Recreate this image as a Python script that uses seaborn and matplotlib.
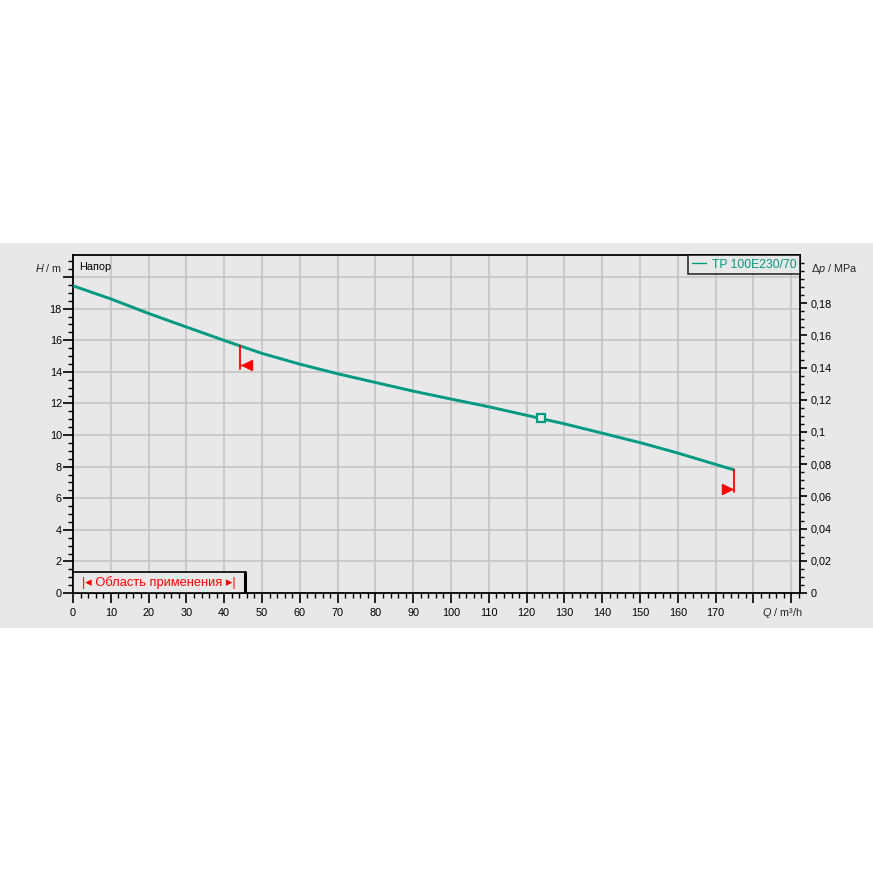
import numpy as np
import pandas as pd
import matplotlib
matplotlib.use("Agg")
import matplotlib.pyplot as plt
from matplotlib.patches import Rectangle
from matplotlib.ticker import MultipleLocator
import seaborn as sns

# data
flow = [0, 10, 20, 30, 40, 50, 60, 70, 80, 90, 100, 110, 120, 130, 140, 150, 160, 170, 174.8]
head = [19.45, 18.62, 17.7, 16.84, 15.99, 15.17, 14.49, 13.88, 13.33, 12.78, 12.28, 11.79, 11.25, 10.71, 10.12, 9.52, 8.86, 8.14, 7.8]
duty_q = [123.9]
duty_h = [11.07]
range_min_q = 44.1
range_max_q = 174.8
series_name = "TP 100E230/70"
x_ticks = list(range(0, 180, 10))
y_ticks = list(range(0, 20, 2))
p_ticks = [0, 0.02, 0.04, 0.06, 0.08, 0.1, 0.12, 0.14, 0.16, 0.18]

TEAL = "#009982"
RED = "#ff0000"
BG = "#e8e8e8"
GRID = "#c2c2c2"
FS = 7.8

sns.set_theme(style="white")
plt.rcParams["font.family"] = ["Liberation Sans", "DejaVu Sans"]
plt.rcParams["mathtext.fontset"] = "custom"
plt.rcParams["mathtext.rm"] = "Liberation Sans"
plt.rcParams["mathtext.it"] = "Liberation Sans:italic"

fig = plt.figure(figsize=(8.73, 8.73), dpi=100)
fig.patch.set_facecolor("white")
band = Rectangle((0, (873 - 628) / 873), 1, (628 - 243) / 873,
                 transform=fig.transFigure, facecolor=BG, edgecolor="none", zorder=-10)
fig.add_artist(band)

ax = fig.add_axes([73 / 873, (873 - 593) / 873, (800 - 73) / 873, (593 - 255) / 873])
ax.set_zorder(1)
ax.set_facecolor(BG)

df = pd.DataFrame({"Q": flow, "H": head})
sns.lineplot(data=df, x="Q", y="H", ax=ax, color=TEAL, linewidth=2.1, zorder=3)
ax.plot(duty_q, duty_h, marker="s", markersize=6.2, markerfacecolor=BG,
        markeredgecolor=TEAL, markeredgewidth=1.6, linestyle="none", zorder=4)

xmax = 192.3
ymax = 21.4
ax.set_xlim(0, xmax)
ax.set_ylim(0, ymax)

ax.set_yticks(y_ticks + [20])
ax.set_yticklabels([str(v) for v in y_ticks] + [""])
ax.xaxis.set_minor_locator(MultipleLocator(2))
ax.yaxis.set_minor_locator(MultipleLocator(0.5))
ax.set_xticks(x_ticks + [180, 190])
ax.set_xticklabels([str(v) for v in x_ticks] + ["", ""])
ax.grid(True, which="major", color=GRID, linewidth=1.1)
ax.set_axisbelow(True)

ax.tick_params(axis="both", which="major", direction="out", length=7, width=1.2,
               color="black", labelsize=FS, labelcolor="black")
ax.tick_params(axis="y", which="major", pad=1)
ax.tick_params(axis="x", which="major", pad=4)
ax.tick_params(axis="both", which="minor", direction="out", length=3.5, width=1.0, color="black")
ax.tick_params(axis="x", which="both", bottom=True)
ax.tick_params(axis="y", which="both", left=True)
for s in ax.spines.values():
    s.set_color("black")
    s.set_linewidth(1.3)
ax.set_xlabel("")
ax.set_ylabel("")

# right axis in MPa
ax2 = ax.twinx()
ax2.set_ylim(0, ymax * 0.00981)
ax2.set_yticks(p_ticks)
ax2.set_yticklabels(["0" if v == 0 else f"{v:g}".replace(".", ",") for v in p_ticks])
ax2.yaxis.set_minor_locator(MultipleLocator(0.005))
ax2.tick_params(axis="y", which="major", direction="out", length=5, width=1.2,
                color="black", labelsize=FS, labelcolor="black", pad=3)
ax2.tick_params(axis="y", which="minor", direction="out", length=3.2, width=1.0, color="black")
for s in ax2.spines.values():
    s.set_visible(False)
ax2.grid(False)

# axis labels
fig.text(35 / 873, 1 - 268 / 873, "$\\mathit{H}$ / m", ha="left", va="center", fontsize=FS)
fig.text(811 / 873, 1 - 269 / 873, "$\\mathit{\\Delta p}$ / MPa", ha="left", va="center", fontsize=FS)
fig.text(762 / 873, 1 - 613 / 873, "$\\mathit{Q}$ / m³/h", ha="left", va="center", fontsize=FS)
ax.text(6 / 727, 1 - 12 / 338, "Напор", transform=ax.transAxes, ha="left", va="center",
        fontsize=FS, color="black")

# legend box
leg = ax.legend([plt.Line2D([], [], color=TEAL, lw=1)], [series_name], loc="upper right",
                frameon=True, fontsize=8.8, handlelength=1.1, handletextpad=0.5,
                borderpad=0.3, borderaxespad=0.0, fancybox=False, labelcolor=TEAL)
leg.get_frame().set_edgecolor("black")
leg.get_frame().set_facecolor(BG)
leg.get_frame().set_linewidth(1.2)

# operating range markers
h_min = np.interp(range_min_q, flow, head)
h_max = np.interp(range_max_q, flow, head)
ax.plot([range_min_q, range_min_q], [h_min, h_min - 1.44], color=RED, lw=1.3, zorder=4)
ax.plot([range_max_q, range_max_q], [h_max, h_max - 1.42], color=RED, lw=1.3, zorder=4)
ax.plot([range_min_q, range_min_q + 1.0], [h_min - 1.2, h_min - 1.2], color=RED, lw=1.0, zorder=4)
ax.plot([range_max_q, range_max_q - 1.0], [h_max - 1.2, h_max - 1.2], color=RED, lw=1.0, zorder=4)
ax.plot([range_min_q + 1.8], [h_min - 1.2], marker="<", color=RED, markersize=7, zorder=4)
ax.plot([range_max_q - 1.8], [h_max - 1.2], marker=">", color=RED, markersize=7, zorder=4)

# "Область применения" box
box = Rectangle((0, 0), 45.6, 1.33, transform=ax.transData, facecolor=BG,
                edgecolor="black", linewidth=1.2, zorder=5, clip_on=False)
ax.add_patch(box)
ax.plot([45.6, 45.6], [0, 1.33], color="black", lw=2.2, zorder=6)
ax.text(22.7, 0.66, "|◂ Область применения ▸|", ha="center", va="center",
        color=RED, fontsize=9.3, zorder=7, family=["Liberation Sans", "DejaVu Sans"])

fig.savefig("out.png", dpi=100, facecolor=fig.get_facecolor())
